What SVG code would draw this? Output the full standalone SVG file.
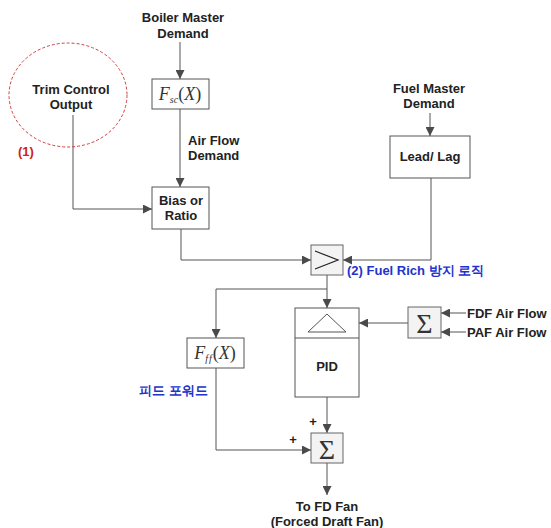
<svg xmlns="http://www.w3.org/2000/svg" width="551" height="528" viewBox="0 0 551 528">
<defs>
<marker id="arr" viewBox="0 0 10 10" refX="10" refY="5" markerWidth="9" markerHeight="9" markerUnits="userSpaceOnUse" orient="auto">
<path d="M0,0 L10,5 L0,10 z" fill="#4a4a4a"/>
</marker>
<style>
.t{font-family:"Liberation Sans",Arial,sans-serif;font-weight:bold;font-size:13px;fill:#222;}
.m{font-family:"Liberation Serif","Times New Roman",serif;fill:#333;}
.box{fill:#fff;stroke:#555;stroke-width:1;}
.sbox{fill:#f3f3f3;stroke:#666;stroke-width:1;}
.ln{fill:none;stroke:#555;stroke-width:1;}
.blue{fill:#2233cc;}
.red{fill:#cc2222;}
</style>
</defs>
<rect width="551" height="528" fill="#fff"/>

<g id="connectors">
<path class="ln" d="M180,42 V79" marker-end="url(#arr)"/>
<path class="ln" d="M180,109 V187" marker-end="url(#arr)"/>
<path class="ln" d="M73,115 V209 H152" marker-end="url(#arr)"/>
<path class="ln" d="M181,229 V260 H311" marker-end="url(#arr)"/>
<path class="ln" d="M430,113 V136" marker-end="url(#arr)"/>
<path class="ln" d="M431,178 V260 H343" marker-end="url(#arr)"/>
<path class="ln" d="M327,275 V308" marker-end="url(#arr)"/>
<path class="ln" d="M327,289 H216 V338" marker-end="url(#arr)"/>
<path class="ln" d="M408,323 H359" marker-end="url(#arr)"/>
<path class="ln" d="M466,313 H441" marker-end="url(#arr)"/>
<path class="ln" d="M466,332 H441" marker-end="url(#arr)"/>
<path class="ln" d="M216,368 V450 H311" marker-end="url(#arr)"/>
<path class="ln" d="M327,397 V433" marker-end="url(#arr)"/>
<path class="ln" d="M327,463 V495" marker-end="url(#arr)"/>
</g>

<g id="boiler-master">
<text class="t" x="183" y="22" text-anchor="middle">Boiler Master</text>
<text class="t" x="183" y="38" text-anchor="middle">Demand</text>
</g>

<g id="trim-control">
<ellipse cx="68" cy="95" rx="59" ry="52" fill="none" stroke="#d04040" stroke-width="1" stroke-dasharray="3,2"/>
<text class="t" x="71" y="94" text-anchor="middle">Trim Control</text>
<text class="t" x="71" y="109" text-anchor="middle">Output</text>
<text class="t red" x="18" y="156">(1)</text>
</g>

<g id="fsc">
<rect class="box" x="152" y="79" width="57" height="30"/>
<text class="m" x="180" y="100" text-anchor="middle"><tspan font-style="italic" font-size="18">F</tspan><tspan font-style="italic" font-size="10" dy="3">sc</tspan><tspan font-size="18" dy="-3">(</tspan><tspan font-style="italic" font-size="18">X</tspan><tspan font-size="18">)</tspan></text>
</g>

<g id="air-flow-demand">
<text class="t" x="188" y="145">Air Flow</text>
<text class="t" x="188" y="160">Demand</text>
</g>

<g id="bias-ratio">
<rect class="box" x="152" y="187" width="57" height="42"/>
<text class="t" x="181" y="205" text-anchor="middle">Bias or</text>
<text class="t" x="181" y="220" text-anchor="middle">Ratio</text>
</g>

<g id="fuel-master">
<text class="t" x="429" y="93" text-anchor="middle">Fuel Master</text>
<text class="t" x="429" y="108" text-anchor="middle">Demand</text>
</g>

<g id="lead-lag">
<rect class="box" x="390" y="136" width="80" height="42"/>
<text class="t" x="430" y="161" text-anchor="middle">Lead/ Lag</text>
</g>

<g id="compare">
<rect class="sbox" x="311" y="245" width="32" height="30"/>
<path d="M315,251 L338,260 L315,269" fill="none" stroke="#222" stroke-width="1.2"/>
<text class="t blue" x="347" y="275" font-size="13.5">(2) Fuel Rich 방지 로직</text>
</g>

<g id="pid">
<rect class="box" x="295" y="308" width="64" height="89"/>
<line class="ln" x1="295" y1="338" x2="359" y2="338"/>
<path d="M308,332 L327,314 L346,332 Z" fill="none" stroke="#555" stroke-width="1"/>
<text class="t" x="327" y="371" text-anchor="middle">PID</text>
</g>

<g id="air-sum">
<rect class="sbox" x="408" y="307" width="33" height="31"/>
<text class="m" x="424.5" y="333" text-anchor="middle" font-size="28">Σ</text>
<text class="t" x="467" y="318">FDF Air Flow</text>
<text class="t" x="467" y="337">PAF Air Flow</text>
</g>

<g id="fff">
<rect class="box" x="187" y="338" width="57" height="30"/>
<text class="m" x="215" y="359" text-anchor="middle"><tspan font-style="italic" font-size="18">F</tspan><tspan font-style="italic" font-size="10" dy="3" letter-spacing="1">ff</tspan><tspan font-size="18" dy="-3">(</tspan><tspan font-style="italic" font-size="18">X</tspan><tspan font-size="18">)</tspan></text>
<text class="t blue" x="139" y="395" font-size="13.5">피드 포워드</text>
</g>

<g id="out-sum">
<rect class="sbox" x="311" y="433" width="32" height="30"/>
<text class="m" x="327" y="459" text-anchor="middle" font-size="28">Σ</text>
<text class="t" x="313" y="426" text-anchor="middle" font-size="12">+</text>
<text class="t" x="293" y="444" text-anchor="middle" font-size="12">+</text>
</g>

<g id="fd-fan">
<text class="t" x="327" y="511" text-anchor="middle">To FD Fan</text>
<text class="t" x="327" y="526" text-anchor="middle">(Forced Draft Fan)</text>
</g>
</svg>
